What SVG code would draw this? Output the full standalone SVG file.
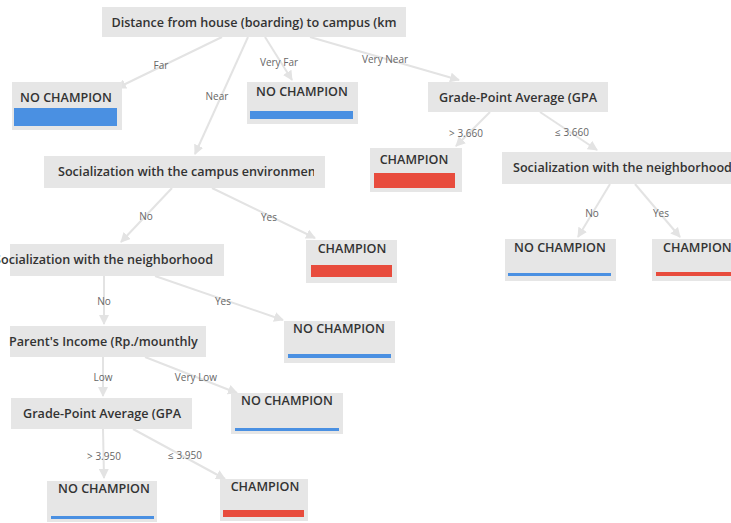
<svg xmlns="http://www.w3.org/2000/svg" width="731" height="523" viewBox="0 0 731 523">
<style>
.box{fill:#e6e6e6}
.t{font-family:"Open Sans","Liberation Sans",sans-serif;font-weight:600;font-size:12.6px;fill:#333;text-anchor:middle}
.l{font-family:"Open Sans","Liberation Sans",sans-serif;font-size:10px;fill:#666;text-anchor:middle}
.e{stroke:#e3e3e3;stroke-width:2;fill:none;marker-end:url(#a)}
.blue{fill:#4a90e2}
.red{fill:#e84c3d}
</style>
<defs>
<marker id="a" viewBox="0 0 10 10" refX="9" refY="5" markerWidth="5" markerHeight="5" orient="auto"><path d="M0,0L10,5L0,10z" fill="#e3e3e3"/></marker>
<clipPath id="c1"><rect x="44" y="156" width="270" height="32"/></clipPath>
</defs>
<rect width="731" height="523" fill="#fff"/>
<g id="edges">
<path class="e" d="M222,37L117,88"/>
<path class="e" d="M248,37L195,154"/>
<path class="e" d="M265,37L292,80"/>
<path class="e" d="M310,37L459,80"/>
<path class="e" d="M490,112L456,146"/>
<path class="e" d="M540,112L597,150"/>
<path class="e" d="M172,188L121,242"/>
<path class="e" d="M212,188L315,238"/>
<path class="e" d="M104,276L104,324"/>
<path class="e" d="M155,276L283,320"/>
<path class="e" d="M610,184L578,237"/>
<path class="e" d="M635,184L680,237"/>
<path class="e" d="M103,357L103,396"/>
<path class="e" d="M145,357L237,393"/>
<path class="e" d="M103,429L104,478"/>
<path class="e" d="M133,429L225,479"/>
<text class="l" x="161" y="69">Far</text>
<text class="l" x="217" y="100">Near</text>
<text class="l" x="279" y="66">Very Far</text>
<text class="l" x="385" y="63">Very Near</text>
<text class="l" x="466" y="137">&gt; 3.660</text>
<text class="l" x="572" y="136">≤ 3.660</text>
<text class="l" x="146" y="220">No</text>
<text class="l" x="269" y="221">Yes</text>
<text class="l" x="104" y="305">No</text>
<text class="l" x="223" y="305">Yes</text>
<text class="l" x="592" y="217">No</text>
<text class="l" x="661" y="217">Yes</text>
<text class="l" x="103" y="381">Low</text>
<text class="l" x="196" y="381">Very Low</text>
<text class="l" x="104" y="460">&gt; 3.950</text>
<text class="l" x="185" y="459">≤ 3.950</text>
</g>
<g id="root"><rect class="box" x="102" y="7" width="304" height="30"/><text class="t" x="254" y="27">Distance from house (boarding) to campus (km</text></g>
<g id="leaf-far"><rect class="box" x="12" y="82" width="110" height="48"/><text class="t" x="66" y="102">NO CHAMPION</text><rect class="blue" x="14" y="108" width="103" height="18"/></g>
<g id="leaf-veryfar"><rect class="box" x="247" y="82" width="111" height="42"/><text class="t" x="302" y="96">NO CHAMPION</text><rect class="blue" x="250" y="111" width="103" height="8"/></g>
<g id="gpa1"><rect class="box" x="428" y="82" width="180" height="30"/><text class="t" x="518" y="102">Grade-Point Average (GPA</text></g>
<g id="leaf-gt3660"><rect class="box" x="370" y="148" width="92" height="44"/><text class="t" x="414" y="164">CHAMPION</text><rect class="red" x="374" y="173" width="81" height="15"/></g>
<g id="socn-right"><rect class="box" x="502" y="152" width="229" height="32"/><text class="t" x="513" y="172" style="text-anchor:start">Socialization with the neighborhood</text></g>
<g id="socc"><rect class="box" x="44" y="156" width="281" height="32"/><text class="t" x="58" y="176" style="text-anchor:start" clip-path="url(#c1)">Socialization with the campus environment</text></g>
<g id="leaf-socc-yes"><rect class="box" x="306" y="240" width="91" height="43"/><text class="t" x="352" y="253">CHAMPION</text><rect class="red" x="311" y="265" width="81" height="12"/></g>
<g id="socn-left"><rect class="box" x="10" y="244" width="214" height="32"/><text class="t" x="213" y="264" style="text-anchor:end">Socialization with the neighborhood</text></g>
<g id="leaf-r-no"><rect class="box" x="505" y="239" width="111" height="42"/><text class="t" x="560" y="252">NO CHAMPION</text><rect class="blue" x="508" y="273" width="103" height="3"/></g>
<g id="leaf-r-yes"><rect class="box" x="652" y="239" width="79" height="42"/><text class="t" x="663" y="252" style="text-anchor:start">CHAMPION</text><rect class="red" x="656" y="272" width="75" height="4"/></g>
<g id="leaf-socn-yes"><rect class="box" x="284" y="321" width="111" height="42"/><text class="t" x="339" y="333">NO CHAMPION</text><rect class="blue" x="288" y="354" width="103" height="4"/></g>
<g id="income"><rect class="box" x="10" y="326" width="196" height="31"/><text class="t" x="9" y="346" style="text-anchor:start">Parent's Income (Rp./mounthly</text></g>
<g id="leaf-verylow"><rect class="box" x="231" y="393" width="112" height="41"/><text class="t" x="287" y="405">NO CHAMPION</text><rect class="blue" x="235" y="428" width="104" height="3"/></g>
<g id="gpa2"><rect class="box" x="11" y="398" width="181" height="31"/><text class="t" x="102" y="418">Grade-Point Average (GPA</text></g>
<g id="leaf-gt3950"><rect class="box" x="47" y="481" width="110" height="41"/><text class="t" x="104" y="493">NO CHAMPION</text><rect class="blue" x="51" y="516" width="103" height="3"/></g>
<g id="leaf-le3950"><rect class="box" x="220" y="479" width="88" height="42"/><text class="t" x="265" y="491">CHAMPION</text><rect class="red" x="223" y="510" width="81" height="7"/></g>
</svg>
